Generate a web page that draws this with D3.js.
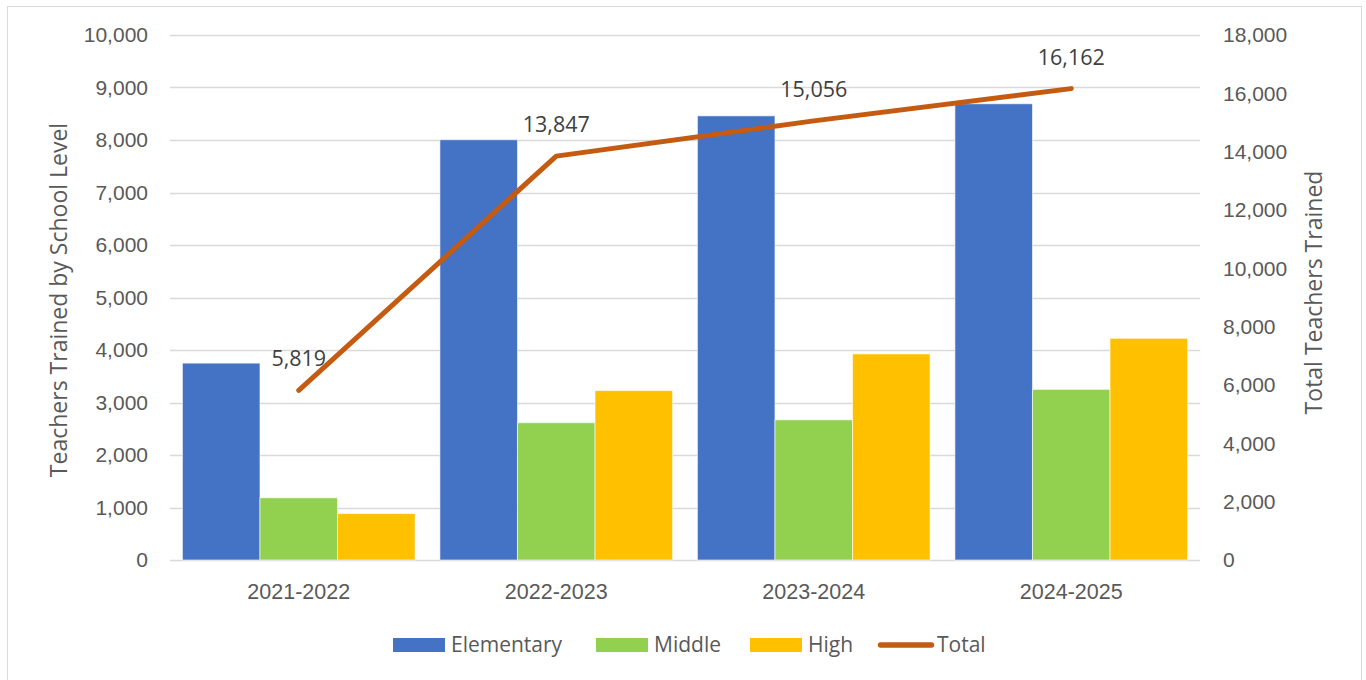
<!DOCTYPE html>
<html>
<head>
<meta charset="utf-8">
<script src="https://cdn.jsdelivr.net/npm/d3@7"></script>
<style>
  html, body { margin: 0; padding: 0; background: #fff; }
  svg { display: block; font-family: "Open Sans", "Noto Sans", sans-serif; }
</style>
</head>
<body>
<div id="chart"></div>
<script>
const years = ['2021-2022', '2022-2023', '2023-2024', '2024-2025'];
const levels = ['Elementary', 'Middle', 'High'];
const elementary = [3750, 8005, 8460, 8690];
const middle = [1185, 2615, 2670, 3250];
const high = [884, 3227, 3926, 4222];
const total = [5819, 13847, 15056, 16162];
const leftTicks = [0, 1000, 2000, 3000, 4000, 5000, 6000, 7000, 8000, 9000, 10000];
const rightTicks = [0, 2000, 4000, 6000, 8000, 10000, 12000, 14000, 16000, 18000];

const colors = { Elementary: '#4472C4', Middle: '#92D050', High: '#FFC000', Total: '#C55A11' };
const textColor = '#595959';

const width = 1366, height = 680;
const margin = { top: 35, right: 166, bottom: 120, left: 170 };

const svg = d3.select('#chart').append('svg')
  .attr('width', width)
  .attr('height', height);

// -- chart frame
svg.append('rect')
  .attr('x', 7.5).attr('y', 6.5)
  .attr('width', 1354).attr('height', 690)
  .attr('fill', 'none')
  .attr('stroke', '#d9d9d9');

const x = d3.scaleBand()
  .domain(years)
  .range([margin.left, width - margin.right]);

const xInner = d3.scaleBand()
  .domain(levels)
  .range([0, x.bandwidth()])
  .paddingOuter(0.16);

const y = d3.scaleLinear()
  .domain([0, 10000])
  .range([height - margin.bottom, margin.top]);

const y2 = d3.scaleLinear()
  .domain([0, 18000])
  .range([height - margin.bottom, margin.top]);

const fmt = d3.format(',');

// -- gridlines
svg.append('g')
  .selectAll('line')
  .data(leftTicks)
  .join('line')
  .attr('x1', margin.left)
  .attr('x2', width - margin.right)
  .attr('y1', d => Math.round(y(d)) + 0.5)
  .attr('y2', d => Math.round(y(d)) + 0.5)
  .attr('stroke', '#d9d9d9')
  .attr('stroke-width', 1.3);

// -- left axis
const leftAxis = svg.append('g')
  .attr('transform', `translate(${margin.left},0)`)
  .call(d3.axisLeft(y).tickValues(leftTicks).tickFormat(fmt).tickSize(0).tickPadding(22));
leftAxis.select('.domain').remove();
leftAxis.selectAll('text')
  .attr('fill', textColor)
  .style('font-size', '21px');

// -- right axis
const rightAxis = svg.append('g')
  .attr('transform', `translate(${width - margin.right},0)`)
  .call(d3.axisRight(y2).tickValues(rightTicks).tickFormat(fmt).tickSize(0).tickPadding(23));
rightAxis.select('.domain').remove();
rightAxis.selectAll('text')
  .attr('fill', textColor)
  .style('font-size', '21px');

// -- x axis
const xAxis = svg.append('g')
  .attr('transform', `translate(0,${height - margin.bottom})`)
  .call(d3.axisBottom(x).tickSize(0));
xAxis.select('.domain').remove();
xAxis.selectAll('text')
  .attr('y', 39)
  .attr('dy', 0)
  .attr('fill', textColor)
  .style('font-size', '21.5px');

// -- axis titles
svg.append('text')
  .attr('transform', 'translate(66.5,300) rotate(-90)')
  .attr('text-anchor', 'middle')
  .attr('fill', textColor)
  .style('font-size', '23px')
  .text('Teachers Trained by School Level');

svg.append('text')
  .attr('transform', 'translate(1322,292.5) rotate(-90)')
  .attr('text-anchor', 'middle')
  .attr('fill', textColor)
  .style('font-size', '23px')
  .text('Total Teachers Trained');

// -- bars
const series = { Elementary: elementary, Middle: middle, High: high };
const rows = years.map((yr, i) => ({ year: yr, values: levels.map(l => ({ level: l, value: series[l][i] })) }));

svg.append('g')
  .selectAll('g')
  .data(rows)
  .join('g')
  .attr('transform', d => `translate(${x(d.year)},0)`)
  .selectAll('rect')
  .data(d => d.values)
  .join('rect')
  .attr('x', d => xInner(d.level))
  .attr('width', xInner.bandwidth())
  .attr('y', d => y(d.value))
  .attr('height', d => y(0) - y(d.value))
  .attr('fill', d => colors[d.level])
  .attr('stroke', '#ffffff')
  .attr('stroke-opacity', 0.6)
  .attr('stroke-width', 1);

// -- total line
const line = d3.line()
  .x((d, i) => x(years[i]) + x.bandwidth() / 2)
  .y(d => y2(d));

svg.append('path')
  .datum(total)
  .attr('d', line)
  .attr('fill', 'none')
  .attr('stroke', colors.Total)
  .attr('stroke-width', 5)
  .attr('stroke-linecap', 'round')
  .attr('stroke-linejoin', 'round');

svg.append('g')
  .selectAll('text')
  .data(total)
  .join('text')
  .attr('x', (d, i) => x(years[i]) + x.bandwidth() / 2)
  .attr('y', d => y2(d) - 24)
  .attr('text-anchor', 'middle')
  .attr('fill', '#404040')
  .style('font-size', '21.5px')
  .text(d => fmt(d));

// -- legend
const legendItems = [
  { name: 'Elementary', x: 393, type: 'rect' },
  { name: 'Middle', x: 596, type: 'rect' },
  { name: 'High', x: 750, type: 'rect' },
  { name: 'Total', x: 878, type: 'line' }
];
const legend = svg.append('g').attr('transform', 'translate(0,645)');
legend.selectAll('g')
  .data(legendItems)
  .join('g')
  .each(function (d) {
    const g = d3.select(this);
    if (d.type === 'rect') {
      g.append('rect').attr('x', d.x).attr('y', -7).attr('width', 52).attr('height', 14).attr('fill', colors[d.name]);
      g.append('text').attr('x', d.x + 58).attr('y', 7)
        .attr('fill', textColor).style('font-size', '21px').text(d.name);
    } else {
      g.append('line').attr('x1', d.x + 2.5).attr('x2', d.x + 53.5).attr('y1', 0).attr('y2', 0)
        .attr('stroke', colors.Total).attr('stroke-width', 5.5).attr('stroke-linecap', 'round');
      g.append('text').attr('x', d.x + 59).attr('y', 7)
        .attr('fill', textColor).style('font-size', '21px').text(d.name);
    }
  });
</script>
</body>
</html>
